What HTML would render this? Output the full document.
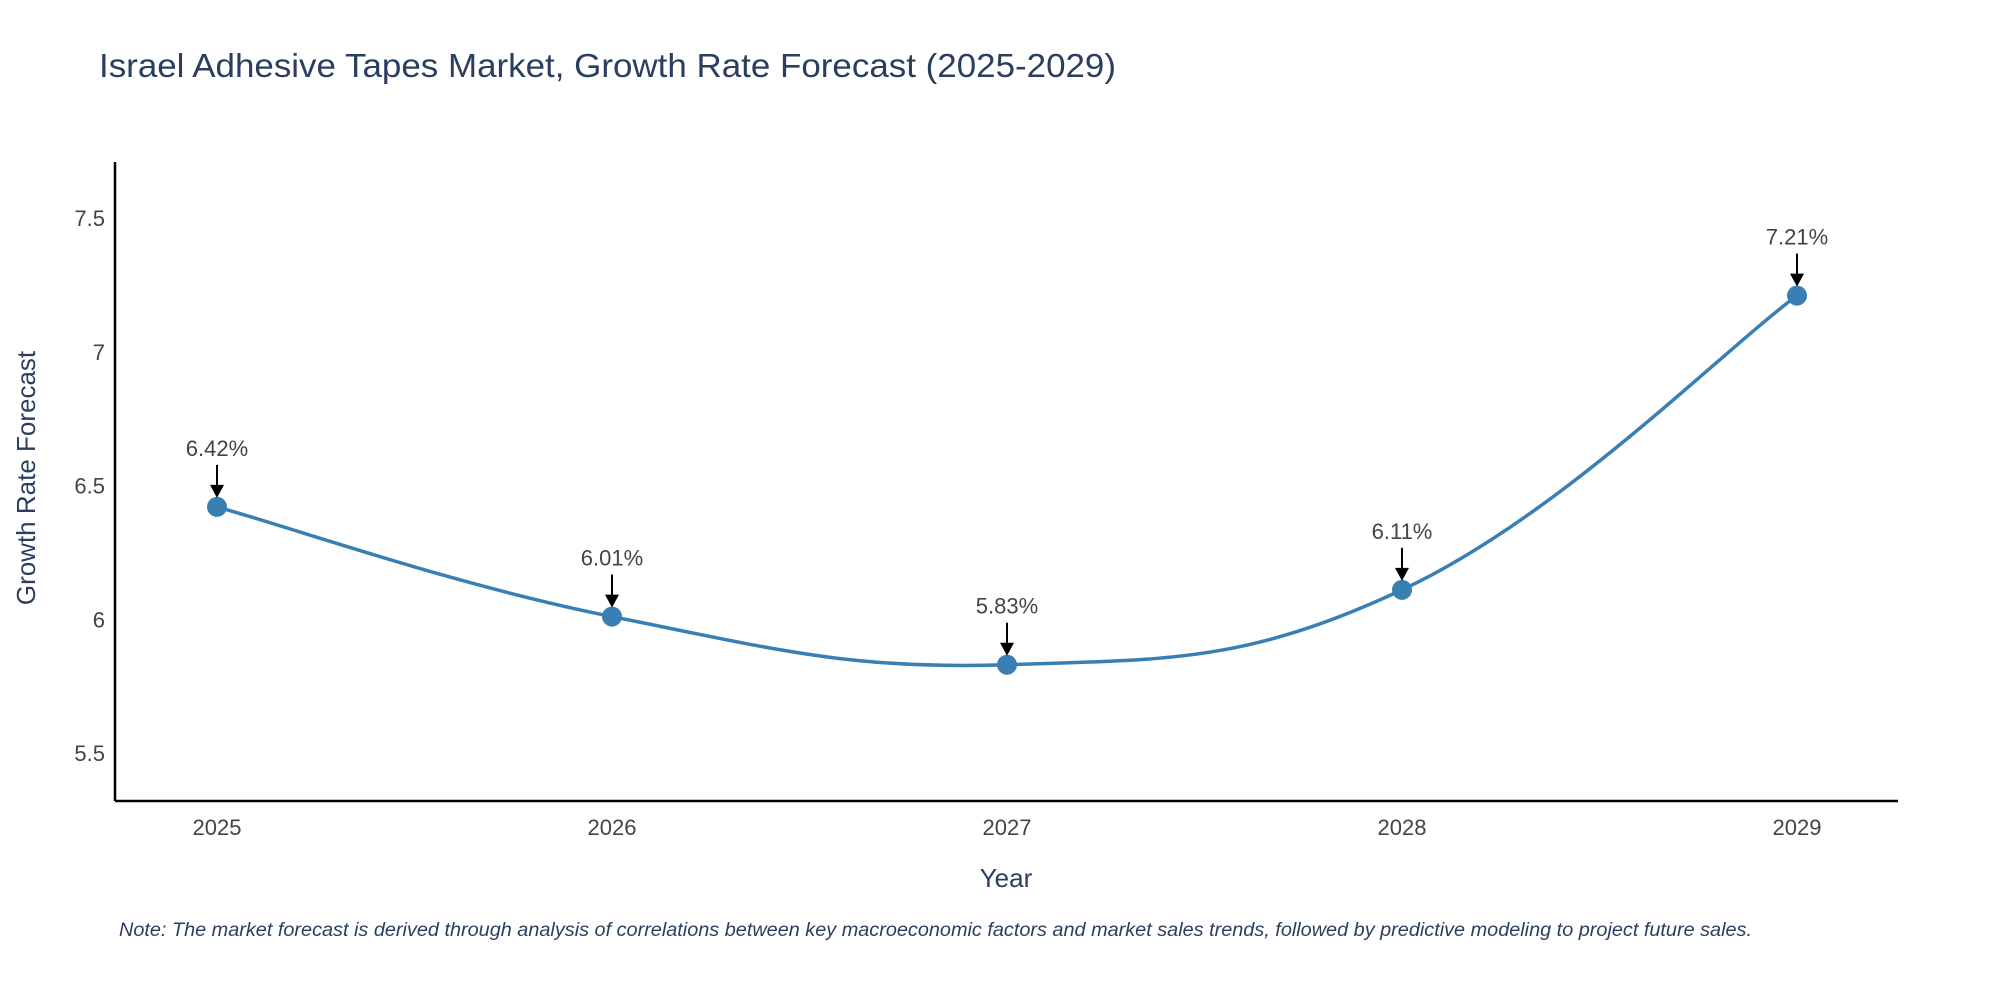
<!DOCTYPE html>
<html><head><meta charset="utf-8"><style>
body{margin:0;background:#fff;}
svg text{font-family:"Liberation Sans",sans-serif;}
</style></head><body>
<svg id="chart" width="2000" height="1000" xmlns="http://www.w3.org/2000/svg">
<text x="99" y="77" font-size="33" fill="#2a3f5f" textLength="1017" lengthAdjust="spacingAndGlyphs">Israel Adhesive Tapes Market, Growth Rate Forecast (2025-2029)</text>
<g id="axes"></g>
<g id="series"></g>
<text x="1006" y="887" font-size="26" fill="#2a3f5f" text-anchor="middle">Year</text>
<text x="35" y="478" font-size="26" fill="#2a3f5f" text-anchor="middle" transform="rotate(-90 35 478)">Growth Rate Forecast</text>
<text x="119" y="936" font-size="19" font-style="italic" fill="#2a3f5f" textLength="1633" lengthAdjust="spacingAndGlyphs">Note: The market forecast is derived through analysis of correlations between key macroeconomic factors and market sales trends, followed by predictive modeling to project future sales.</text>
</svg>
<script>
const categories=["2025","2026","2027","2028","2029"];
const values=[6.42,6.01,5.83,6.11,7.21];
const yTicks=[5.5,6,6.5,7,7.5];
const NS="http://www.w3.org/2000/svg";
const L=115,R=1898,T=162,B=801;
const xS=i=>217+i*(1797-217)/(categories.length-1);
const yS=v=>753-(v-5.5)*267.5;
function mk(tag,attrs,parent){const e=document.createElementNS(NS,tag);for(const k in attrs)e.setAttribute(k,attrs[k]);parent.appendChild(e);return e;}
const axes=document.getElementById('axes'),ser=document.getElementById('series');
const yl=mk('line',{x1:L,y1:T,x2:L,y2:B,stroke:'#000','stroke-width':2.5},axes);


const xl=mk('line',{x1:L,y1:B,x2:R,y2:B,stroke:'#000','stroke-width':2.5},axes);


yTicks.forEach(v=>{const t=mk('text',{x:L-10,y:yS(v)+8,'font-size':22,fill:'#444','text-anchor':'end'},axes);t.textContent=String(v);

});
categories.forEach((c,i)=>{const t=mk('text',{x:xS(i),y:835,'font-size':22,fill:'#444','text-anchor':'middle'},axes);t.textContent=c;

});
const pts=values.map((v,i)=>[xS(i),yS(v)]);
let d=`M${pts[0][0]},${pts[0][1]}`;
const s=0.2;
for(let i=0;i<pts.length-1;i++){const p0=pts[Math.max(0,i-1)],p1=pts[i],p2=pts[i+1],p3=pts[Math.min(pts.length-1,i+2)];
d+=` C${p1[0]+(p2[0]-p0[0])*s},${p1[1]+(p2[1]-p0[1])*s} ${p2[0]-(p3[0]-p1[0])*s},${p2[1]-(p3[1]-p1[1])*s} ${p2[0]},${p2[1]}`;}
const line=mk('path',{d:d,fill:'none',stroke:'#3a7fb3','stroke-width':3.5},ser);


pts.forEach((p,i)=>{
const c=mk('circle',{cx:p[0],cy:p[1],r:10,fill:'#3a7fb3'},ser);


const a=mk('line',{x1:p[0],y1:p[1]-42,x2:p[0],y2:p[1]-20,stroke:'#000','stroke-width':2},ser);


const h=mk('polygon',{points:`${p[0]-7},${p[1]-22} ${p[0]+7},${p[1]-22} ${p[0]},${p[1]-9}`,fill:'#000'},ser);


const t=mk('text',{x:p[0],y:p[1]-51,'font-size':22,fill:'#444','text-anchor':'middle'},ser);
t.textContent=values[i].toFixed(2)+'%';


});
</script>
</body></html>
